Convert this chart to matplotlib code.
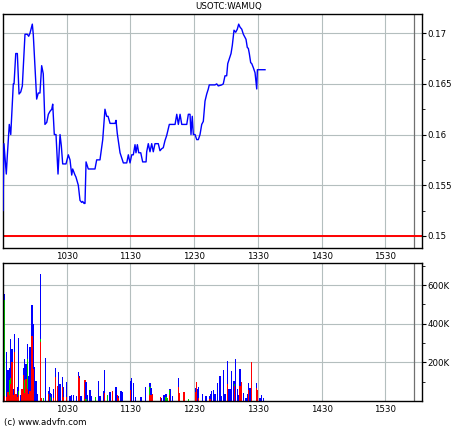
import matplotlib
matplotlib.use("Agg")
import matplotlib.pyplot as plt
import numpy as np
from matplotlib.ticker import FixedLocator, MultipleLocator, FuncFormatter

# ---- data (minutes after 09:30) ----
price_t = [0, 0.9, 3.1, 4.0, 5.9, 7.3, 9.7, 10.4, 12.0, 13.5, 15.1, 16.7, 18.2, 20.7, 22.9, 24.2,
           25.4, 27.6, 28.5, 31.7, 33.2, 34.8, 36.4, 37.9, 39.5, 41.2, 42.7, 44.3, 45.9, 46.8,
           48.3, 49.9, 51.8, 53.7, 54.9, 56.2, 59.3, 61.5, 63.1, 64.7, 65.6, 67.8, 68.7, 70.9,
           72.5, 74.1, 75.0, 76.3, 77.2, 78.2, 80.3, 86.6, 88.2, 91.3, 93.9, 96.0, 97.6, 98.9,
           100.8, 105.5, 106.4, 107.6, 110.2, 113.3, 116.5, 118.0, 119.6, 121.2, 122.7, 124.3,
           125.2, 126.5, 127.8, 129.7, 131.5, 134.7, 135.3, 136.8, 138.4, 140.0, 141.5, 143.1,
           146.2, 147.8, 149.4, 150.9, 152.5, 154.1, 156.6, 162.0, 163.6, 165.1, 166.7, 168.3,
           173.0, 174.5, 176.1, 177.0, 178.2, 179.2, 180.8, 182.4, 183.9, 185.5, 187.1, 188.6,
           190.2, 191.8, 193.3, 194.2, 199.6, 201.2, 202.7, 205.9, 207.4, 209.0, 210.6, 211.6,
           213.1, 214.7, 215.9, 217.5, 219.1, 220.6, 221.9, 223.2, 224.8, 226.3, 228.8, 230.0,
           231.0, 231.9, 233.2, 234.2, 235.7, 237.3, 238.9, 239.5, 246.7]
price_v = [0.1525, 0.1591, 0.1561, 0.1578, 0.1610, 0.1600, 0.1650, 0.1650, 0.1680, 0.1680, 0.1640,
           0.1642, 0.1648, 0.1699, 0.1699, 0.1697, 0.1700, 0.1709, 0.1699, 0.1635, 0.1641, 0.1641,
           0.1668, 0.1660, 0.1610, 0.1612, 0.1620, 0.1623, 0.1625, 0.1630, 0.1600, 0.1600, 0.1561,
           0.1600, 0.1589, 0.1571, 0.1571, 0.1580, 0.1575, 0.1560, 0.1566, 0.1560, 0.1558, 0.1550,
           0.1535, 0.1533, 0.1534, 0.1532, 0.1532, 0.1573, 0.1566, 0.1566, 0.1575, 0.1575, 0.1595,
           0.1625, 0.1618, 0.1618, 0.1611, 0.1611, 0.1614, 0.1601, 0.1582, 0.1572, 0.1572, 0.1580,
           0.1572, 0.1580, 0.1580, 0.1590, 0.1582, 0.1590, 0.1582, 0.1582, 0.1573, 0.1573, 0.1583,
           0.1591, 0.1583, 0.1591, 0.1583, 0.1591, 0.1591, 0.1584, 0.1586, 0.1587, 0.1594, 0.1599,
           0.1610, 0.1610, 0.1620, 0.1610, 0.1620, 0.1610, 0.1610, 0.1620, 0.1620, 0.1600, 0.1618,
           0.1600, 0.1600, 0.1595, 0.1595, 0.1600, 0.1610, 0.1613, 0.1633, 0.1640, 0.1645, 0.1649,
           0.1649, 0.1650, 0.1648, 0.1649, 0.1650, 0.1658, 0.1658, 0.1670, 0.1675, 0.1680, 0.1688,
           0.1703, 0.1701, 0.1704, 0.1709, 0.1706, 0.1704, 0.1699, 0.1694, 0.1686, 0.1685, 0.1680,
           0.1671, 0.1670, 0.1666, 0.1661, 0.1645, 0.1664, 0.1664]

ref_price = 0.15

# volume bars: time, total (K), red part (K), green part (K)
vol_t = [0.9, 3.1, 4.7, 5.9, 6.9, 8.5, 9.7, 11.0, 12.2, 13.5, 14.8, 16.6, 17.9, 19.1, 20.4, 21.7,
         22.9, 24.2, 25.4, 27.3, 28.6, 29.8, 31.1, 32.3, 35.1, 36.4, 38.0, 39.9, 42.7, 43.6, 44.9,
         45.8, 47.4, 49.6, 51.1, 52.1, 53.7, 55.9, 56.8, 59.8, 63.1, 64.7, 66.2, 69.4, 70.9, 71.8,
         73.4, 77.2, 78.2, 79.4, 81.9, 83.5, 87.3, 89.8, 91.3, 94.4, 95.4, 98.2, 100.8, 102.9,
         106.4, 107.6, 108.6, 111.1, 112.3, 120.5, 121.2, 122.7, 125.0, 129.9, 134.4, 138.4,
         139.4, 140.6, 148.1, 149.4, 151.6, 153.5, 154.7, 156.6, 157.9, 159.8, 165.1, 166.0,
         170.4, 174.5, 181.4, 182.0, 183.0, 183.9, 188.0, 191.1, 194.3, 195.6, 196.5, 198.0,
         199.6, 201.8, 204.3, 205.9, 207.4, 209.0, 211.2, 212.1, 213.1, 214.4, 215.4, 216.9,
         217.5, 218.7, 220.6, 221.9, 223.2, 223.8, 224.8, 226.3, 228.8, 230.0, 231.4, 232.6,
         234.2, 238.9, 239.8, 242.0, 243.6, 245.5]
vol_total = [554, 252, 158, 173, 321, 269, 60, 347, 35, 70, 324, 30, 60, 173, 217, 191,
             295, 130, 278, 496, 399, 175, 105, 35, 655, 15, 15, 221, 50, 70, 40,
             35, 60, 173, 80, 151, 90, 122, 70, 98, 27, 29, 29, 26, 149, 130,
             26, 110, 97, 30, 58, 26, 22, 101, 26, 50, 158, 30, 48, 51,
             75, 32, 26, 52, 49, 103, 118, 95, 20, 20, 75, 92,
             66, 35, 20, 16, 30, 37, 15, 60, 60, 26, 120, 40,
             48, 12, 66, 98, 62, 72, 34, 26, 26, 34, 52, 55,
             34, 92, 127, 26, 162, 34, 205, 60, 60, 60, 156, 106,
             106, 215, 60, 29, 166, 152, 100, 43, 17, 38, 92, 66,
             201, 95, 58, 17, 29, 15]
vol_red = [25, 20, 45, 30, 90, 200, 30, 252, 35, 20, 30, 0, 60, 132, 40, 113,
           60, 35, 50, 338, 165, 0, 0, 0, 304, 15, 0, 0, 35, 0, 0,
           0, 15, 122, 80, 0, 0, 70, 20, 20, 0, 0, 0, 0, 127, 120,
           0, 110, 0, 0, 0, 0, 0, 0, 0, 0, 40, 0, 0, 51,
           0, 32, 15, 0, 0, 55, 0, 0, 0, 0, 0, 30,
           30, 35, 20, 0, 0, 0, 0, 30, 0, 0, 75, 40,
           48, 0, 45, 98, 0, 15, 0, 0, 10, 12, 0, 0,
           0, 0, 0, 0, 0, 0, 90, 0, 0, 0, 0, 0,
           80, 0, 0, 0, 80, 78, 100, 0, 0, 0, 58, 0,
           201, 66, 58, 0, 0, 0]
vol_green = [500, 0, 0, 80, 30, 0, 0, 0, 0, 0, 20, 0, 0, 0, 70, 0,
             157, 0, 0, 0, 0, 0, 0, 0, 15, 0, 15, 0, 0, 0, 20,
             0, 0, 0, 0, 0, 0, 0, 0, 0, 0, 0, 0, 0, 0, 0,
             0, 0, 10, 0, 0, 0, 22, 0, 0, 0, 0, 30, 0, 0,
             0, 0, 0, 0, 0, 0, 0, 0, 0, 0, 0, 40,
             0, 0, 0, 0, 0, 20, 15, 25, 0, 0, 0, 0,
             0, 12, 0, 0, 0, 0, 0, 0, 0, 0, 0, 0,
             0, 0, 0, 0, 0, 0, 0, 0, 0, 0, 0, 0,
             10, 0, 0, 0, 0, 19, 0, 0, 0, 0, 0, 0,
             0, 0, 0, 0, 0, 0]

hour_ticks = [60, 120, 180, 240, 300, 360]
hour_labels = ["1030", "1130", "1230", "1330", "1430", "1530"]
title = "USOTC:WAMUQ"
credit = "(c) www.advfn.com"

# ---- figure ----
W, H = 460, 430
fig = plt.figure(figsize=(W / 100, H / 100), dpi=100)
plt.rcParams['font.family'] = ['DejaVu Sans']
FS = 6.2

def frac(x0, y0, x1, y1):
    return [x0 / W, 1 - y1 / H, (x1 - x0) / W, (y1 - y0) / H]

ax1 = fig.add_axes(frac(3, 14, 422, 248))
ax2 = fig.add_axes(frac(3, 263, 422, 401))

XMAX = 394.5
grid_col = '#b4bebe'
for ax in (ax1, ax2):
    ax.set_xlim(0, XMAX)
    ax.xaxis.set_major_locator(FixedLocator(hour_ticks))
    ax.set_xticklabels(hour_labels, fontsize=FS)
    ax.tick_params(axis='x', length=0, pad=3)
    ax.yaxis.tick_right()
    ax.tick_params(axis='y', which='major', direction='out', length=3, labelsize=FS, pad=1)
    ax.tick_params(axis='y', which='minor', direction='out', length=2)
    ax.grid(True, which='major', color=grid_col, linewidth=0.8)
    ax.set_axisbelow(True)
    for s in ax.spines.values():
        s.set_linewidth(1.0)
        s.set_color('black')
    ax.axvline(387, color='#707070', linewidth=0.9, zorder=1)

# price panel
ax1.set_ylim(0.1488, 0.1719)
ax1.yaxis.set_major_locator(MultipleLocator(0.005))
ax1.yaxis.set_minor_locator(MultipleLocator(0.0025))
ax1.yaxis.set_major_formatter(FuncFormatter(lambda v, p: ("%.3f" % v).rstrip('0')))
ax1.axhline(ref_price, color='#ff0000', linewidth=1.4, zorder=2)
ax1.plot(price_t, price_v, color='#0000ff', linewidth=1.0, zorder=3)

# volume panel
vt = np.array(vol_t)
vtot = np.array(vol_total, dtype=float)
vr = np.array(vol_red, dtype=float)
vg = np.array(vol_green, dtype=float)
vb = np.clip(vtot - vr - vg, 0, None)
bw = 1.3
ax2.bar(vt, vr, width=bw, color='#ff0000', linewidth=0, zorder=2, antialiased=False)
ax2.bar(vt, vg, width=bw, bottom=vr, color='#00cc00', linewidth=0, zorder=2, antialiased=False)
ax2.bar(vt, vb, width=bw, bottom=vr + vg, color='#0000ff', linewidth=0, zorder=2, antialiased=False)
ax2.set_ylim(0, 714)
ax2.yaxis.set_major_locator(FixedLocator([200, 400, 600]))
ax2.yaxis.set_minor_locator(FixedLocator([100, 300, 500, 700]))
ax2.yaxis.set_major_formatter(FuncFormatter(lambda v, p: "%dK" % v))

fig.text(229 / W, 1 - 7 / H, title, ha='center', va='center', fontsize=FS)
fig.text(4 / W, 1 - 422 / H, credit, ha='left', va='center', fontsize=FS)

fig.savefig("out.png", dpi=100)
